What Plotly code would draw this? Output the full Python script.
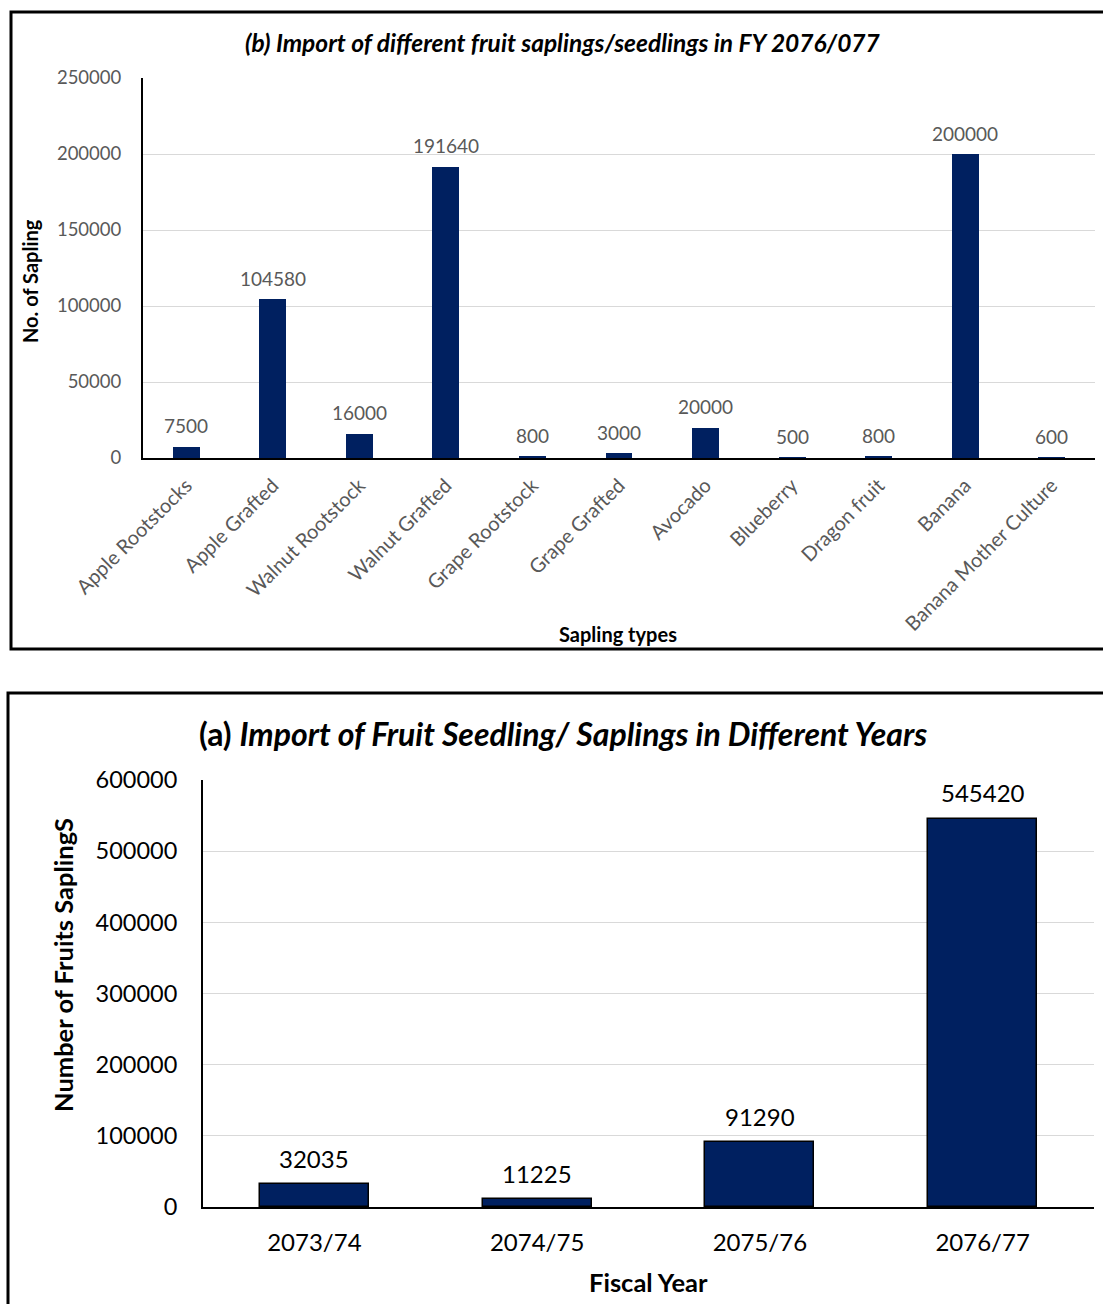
import plotly.graph_objects as go

# ---- data ----
types_b = ["Apple Rootstocks", "Apple Grafted", "Walnut Rootstock", "Walnut Grafted",
           "Grape Rootstock", "Grape Grafted", "Avocado", "Blueberry", "Dragon fruit",
           "Banana", "Banana Mother Culture"]
counts_b = [7500, 104580, 16000, 191640, 800, 3000, 20000, 500, 800, 200000, 600]

years_a = ["2073/74", "2074/75", "2075/76", "2076/77"]
counts_a = [32035, 11225, 91290, 545420]

W, H = 1103, 1304
FONT = "Lato"
BAR = "#002060"


def px(x):
    return x / W


def py(y):
    return 1 - y / H


fig = go.Figure()

fig.add_trace(go.Bar(
    x=types_b, y=counts_b, xaxis="x", yaxis="y",
    marker=dict(color=BAR, line=dict(width=0)), width=0.31, showlegend=False,
))

fig.add_trace(go.Bar(
    x=years_a, y=counts_a, xaxis="x2", yaxis="y2",
    marker=dict(color=BAR, line=dict(width=1.5, color="black")), width=0.49,
    showlegend=False,
))

annotations = [
    dict(text="<b><i>(b) Import of different fruit saplings/seedlings in FY 2076/077</i></b>",
         x=px(563), y=py(42), xref="paper", yref="paper", showarrow=False,
         font=dict(family=FONT, size=24.5, color="black"), xanchor="center", yanchor="middle"),
    dict(text="<b>No. of Sapling</b>", x=px(30), y=py(281), xref="paper", yref="paper",
         showarrow=False, textangle=-90, font=dict(family=FONT, size=20, color="black"),
         xanchor="center", yanchor="middle"),
    dict(text="<b>Sapling types</b>", x=px(618), y=py(634), xref="paper", yref="paper",
         showarrow=False, font=dict(family=FONT, size=20, color="black"),
         xanchor="center", yanchor="middle"),
    dict(text="<b>(a) <i>Import of Fruit Seedling/ Saplings in Different Years</i></b>",
         x=px(563), y=py(733), xref="paper", yref="paper", showarrow=False,
         font=dict(family=FONT, size=32, color="black"), xanchor="center", yanchor="middle"),
    dict(text="<b>Number of Fruits SaplingS</b>", x=px(63), y=py(965), xref="paper",
         yref="paper", showarrow=False, textangle=-90,
         font=dict(family=FONT, size=25.5, color="black"), xanchor="center", yanchor="middle"),
    dict(text="<b>Fiscal Year</b>", x=px(648), y=py(1282), xref="paper", yref="paper",
         showarrow=False, font=dict(family=FONT, size=25.5, color="black"),
         xanchor="center", yanchor="middle"),
]

for cat, val in zip(types_b, counts_b):
    annotations.append(dict(text=str(val), x=cat, y=val, xref="x", yref="y",
                            showarrow=False, yanchor="middle", yshift=21,
                            font=dict(family=FONT, size=19, color="#595959")))
for cat, val in zip(years_a, counts_a):
    annotations.append(dict(text=str(val), x=cat, y=val, xref="x2", yref="y2",
                            showarrow=False, yanchor="middle", yshift=26,
                            font=dict(family=FONT, size=24, color="black")))

fig.update_layout(
    width=W, height=H, margin=dict(l=0, r=0, t=0, b=0, autoexpand=False),
    paper_bgcolor="white", plot_bgcolor="white",
    font=dict(family=FONT),
    bargap=0,
    xaxis=dict(domain=[px(143), px(1095)], anchor="y", showline=True, linecolor="black",
               linewidth=2, showgrid=False, tickangle=-45, automargin=False,
               tickfont=dict(family=FONT, size=20, color="#595959"),
               ticks="outside", ticklen=6, tickcolor="rgba(0,0,0,0)"),
    yaxis=dict(domain=[py(458), py(78)], anchor="x", range=[0, 250000], dtick=50000,
               showline=True, linecolor="black", linewidth=2, automargin=False,
               showgrid=True, gridcolor="#d9d9d9", gridwidth=1, zeroline=False,
               tickfont=dict(family=FONT, size=18.5, color="#595959"),
               ticks="outside", ticklen=16, tickcolor="rgba(0,0,0,0)", tickformat="d"),
    xaxis2=dict(domain=[px(203), px(1094)], anchor="y2", showline=True, linecolor="black",
                linewidth=2, showgrid=False, automargin=False,
                tickfont=dict(family=FONT, size=24, color="black"),
                ticks="outside", ticklen=13, tickcolor="rgba(0,0,0,0)"),
    yaxis2=dict(domain=[py(1207), py(780)], anchor="x2", range=[0, 600000], dtick=100000,
                showline=True, linecolor="black", linewidth=2, automargin=False,
                showgrid=True, gridcolor="#d9d9d9", gridwidth=1, zeroline=False,
                tickfont=dict(family=FONT, size=23.5, color="black"),
                ticks="outside", ticklen=19, tickcolor="rgba(0,0,0,0)", tickformat="d"),
    shapes=[
        dict(type="rect", xref="paper", yref="paper", x0=px(11), x1=px(1115),
             y0=py(649), y1=py(12), line=dict(color="black", width=3)),
        dict(type="rect", xref="paper", yref="paper", x0=px(8), x1=px(1115),
             y0=py(1320), y1=py(693), line=dict(color="black", width=3)),
    ],
    annotations=annotations,
)

fig.write_html("out.html")
